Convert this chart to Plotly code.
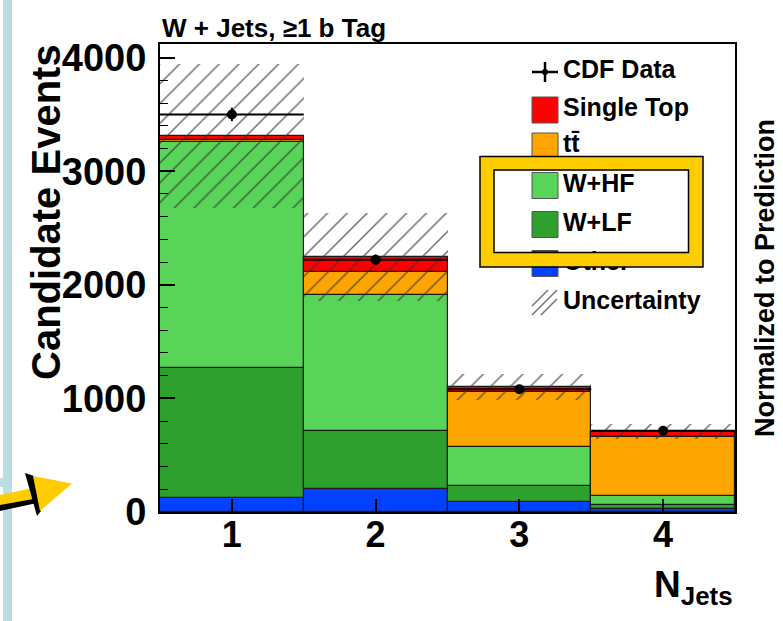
import numpy as np
import plotly.graph_objects as go

# ---------------- data ----------------
njets = [1, 2, 3, 4]
other = [120, 200, 88, 25]
w_lf = [1150, 510, 144, 35]
w_hf = [1990, 1200, 344, 80]
ttbar = [15, 205, 478, 524]
single_top = [35, 130, 44, 43]
cdf_data = [3500, 2220, 1081, 716]
uncertainty = [630, 390, 115, 65]

legend_labels = ["CDF Data", "Single Top", "t\u0074\u0304", "W+HF", "W+LF", "Other", "Uncertainty"]
x_ticks = [1, 2, 3, 4]

# ---------------- geometry helpers ----------------
W, H = 783, 621
L, R, T, B = 160, 735, 44, 512
XR = (0.5, 4.5)
YR = (0, 4120)
FONT = "Liberation Sans, Arial, Helvetica, sans-serif"


def px(x):
    return (x - L) / (R - L)


def py(y):
    return (B - y) / (B - T)


def dx(x):
    return XR[0] + (x - L) / (R - L) * (XR[1] - XR[0])


def dy(y):
    return YR[0] + (B - y) / (B - T) * (YR[1] - YR[0])


colors = {
    "Other": "#0042FF",
    "W+LF": "#2EA02E",
    "W+HF": "#58D458",
    "tt": "#FFA500",
    "ST": "#FF0000",
}

components = [
    ("Other", other, colors["Other"]),
    ("W+LF", w_lf, colors["W+LF"]),
    ("W+HF", w_hf, colors["W+HF"]),
    ("tt", ttbar, colors["tt"]),
    ("ST", single_top, colors["ST"]),
]

fig = go.Figure()
base = np.zeros(len(njets))
for name, vals, col in components:
    vals = np.array(vals, dtype=float)
    fig.add_trace(go.Bar(
        x=njets, y=vals, base=base.copy(), width=1.0, name=name,
        marker=dict(color=col, line=dict(color="#1a1a1a", width=1.2)),
        showlegend=False,
    ))
    base = base + vals

total = base
unc = np.array(uncertainty, dtype=float)
fig.add_trace(go.Bar(
    x=njets, y=2 * unc, base=total - unc, width=1.0, name="Uncertainty",
    marker=dict(color="rgba(0,0,0,0)", line=dict(width=0),
                pattern=dict(shape="/", fgcolor="#333333", fgopacity=0.75,
                             size=14, solidity=0.1, fillmode="overlay")),
    showlegend=False,
))

fig.add_trace(go.Scatter(
    x=njets, y=cdf_data, mode="markers", name="CDF Data",
    marker=dict(color="black", size=10),
    error_x=dict(type="data", array=[0.5] * 4, color="black", thickness=2, width=0),
    error_y=dict(type="data", array=list(np.sqrt(cdf_data)), color="black", thickness=2, width=0),
    showlegend=False,
))

# ---------------- manual legend ----------------
row_y = [72, 110, 146, 185.5, 224.5, 263.5, 302.5]
text_x = 563
fig.add_trace(go.Scatter(
    x=[dx(text_x)] * len(legend_labels), y=[dy(v) for v in row_y],
    mode="text", text=legend_labels, textposition="middle right",
    textfont=dict(family=FONT, size=25, color="black", weight="bold"),
    showlegend=False, hoverinfo="skip",
))

shapes = []
sw_x0, sw_x1 = 532, 558
swatch_cols = [colors["ST"], colors["tt"], colors["W+HF"], colors["W+LF"], colors["Other"]]
for yc, col in zip(row_y[1:6], swatch_cols):
    shapes.append(dict(type="rect", xref="paper", yref="paper",
                       x0=px(sw_x0), x1=px(sw_x1), y0=py(yc + 13), y1=py(yc - 13),
                       fillcolor=col, line=dict(color="#555555", width=1), layer="above"))
# CDF data symbol (cross with dot)
cx = (sw_x0 + sw_x1) / 2
shapes.append(dict(type="line", xref="paper", yref="paper", x0=px(sw_x0), x1=px(sw_x1),
                   y0=py(row_y[0]), y1=py(row_y[0]), line=dict(color="black", width=2.5), layer="above"))
shapes.append(dict(type="line", xref="paper", yref="paper", x0=px(cx), x1=px(cx),
                   y0=py(row_y[0] - 10), y1=py(row_y[0] + 10), line=dict(color="black", width=2.5), layer="above"))
shapes.append(dict(type="circle", xref="paper", yref="paper", x0=px(cx - 3), x1=px(cx + 3),
                   y0=py(row_y[0] + 3), y1=py(row_y[0] - 3), fillcolor="black", line=dict(width=0), layer="above"))
# Uncertainty symbol (hatch lines)
u0, u1 = row_y[6] - 12.5, row_y[6] + 12.5
for k in (-9, 0, 9):
    c = sw_x0 + u1 + k
    xa = max(sw_x0, c - u1)
    xb = min(sw_x1 - 1, c - u0)
    shapes.append(dict(type="line", xref="paper", yref="paper",
                       x0=px(xa), y0=py(c - xa), x1=px(xb), y1=py(c - xb),
                       line=dict(color="#777777", width=1.6), layer="above"))

# yellow highlight box
shapes.append(dict(type="rect", xref="paper", yref="paper",
                   x0=px(487), x1=px(695.8), y0=py(259.8), y1=py(163.3),
                   line=dict(color="#FFCC00", width=14), fillcolor="rgba(0,0,0,0)", layer="above"))
shapes.append(dict(type="rect", xref="paper", yref="paper",
                   x0=px(480), x1=px(703), y0=py(267), y1=py(156.5),
                   line=dict(color="black", width=1.5), fillcolor="rgba(0,0,0,0)", layer="above"))
shapes.append(dict(type="rect", xref="paper", yref="paper",
                   x0=px(494), x1=px(688.5), y0=py(252.5), y1=py(170),
                   line=dict(color="black", width=1.5), fillcolor="rgba(0,0,0,0)", layer="above"))

# left light-blue bar
shapes.append(dict(type="rect", xref="paper", yref="paper",
                   x0=px(3), x1=px(12), y0=py(H), y1=py(0),
                   fillcolor="#BBDDE3", line=dict(width=0), layer="above"))
shapes.append(dict(type="rect", xref="paper", yref="paper",
                   x0=px(0), x1=px(3), y0=py(487), y1=py(478),
                   fillcolor="#BBDDE3", line=dict(width=0), layer="above"))


def poly(points):
    return "M " + " L ".join(f"{px(a):.5f},{py(b):.5f}" for a, b in points) + " Z"


# yellow arrow (bottom-left)
shapes.append(dict(type="path", xref="paper", yref="paper",
                   path=poly([(0, 504), (36, 497), (37, 503), (0, 511)]),
                   fillcolor="black", line=dict(width=0), layer="above"))
shapes.append(dict(type="path", xref="paper", yref="paper",
                   path=poly([(0, 495), (35, 487.5), (36, 498.5), (0, 505)]),
                   fillcolor="#FFCC00", line=dict(width=0), layer="above"))
shapes.append(dict(type="path", xref="paper", yref="paper",
                   path=poly([(25, 473), (34, 476), (41, 511), (37, 516)]),
                   fillcolor="black", line=dict(width=0), layer="above"))
shapes.append(dict(type="path", xref="paper", yref="paper",
                   path=poly([(33, 476), (72, 483.5), (40, 511)]),
                   fillcolor="#FFCC00", line=dict(width=0), layer="above"))

annotations = [
    dict(text="W + Jets, \u22651 b Tag", xref="paper", yref="paper", x=0, y=py(28),
         xanchor="left", yanchor="middle", showarrow=False,
         font=dict(family=FONT, size=26, color="black", weight="bold")),
    dict(text="Candidate Events", xref="paper", yref="paper", x=px(46), y=py(212),
         xanchor="center", yanchor="middle", textangle=-90, showarrow=False,
         font=dict(family=FONT, size=40, color="black", weight="bold")),
    dict(text="Normalized to Prediction", xref="paper", yref="paper", x=px(765), y=py(278),
         xanchor="center", yanchor="middle", textangle=-90, showarrow=False,
         font=dict(family=FONT, size=27, color="black", weight="bold")),
    dict(text="N<sub>Jets</sub>", xref="paper", yref="paper", x=1.0, y=py(562),
         xanchor="right", yanchor="top", showarrow=False,
         font=dict(family=FONT, size=37, color="black", weight="bold")),
]

fig.update_layout(
    width=W, height=H,
    margin=dict(l=L, r=W - R, t=T, b=H - B, pad=0),
    paper_bgcolor="white", plot_bgcolor="white",
    barmode="overlay", bargap=0,
    showlegend=False,
    shapes=shapes, annotations=annotations,
    xaxis=dict(range=list(XR), tickvals=x_ticks, ticktext=[str(v) for v in x_ticks],
               ticks="inside", ticklen=13, tickwidth=1.5, tickcolor="black",
               showline=True, linewidth=2, linecolor="black", mirror=True,
               showgrid=False, zeroline=False, ticklabelstandoff=-10,
               tickfont=dict(family=FONT, size=36, color="black", weight="bold")),
    yaxis=dict(range=list(YR), tick0=0, dtick=1000,
               ticks="inside", ticklen=15, tickwidth=1.5, tickcolor="black",
               minor=dict(dtick=200, ticks="inside", ticklen=8, tickwidth=1.2,
                          tickcolor="black", showgrid=False),
               showline=True, linewidth=2, linecolor="black", mirror=True,
               showgrid=False, zeroline=False, ticklabelstandoff=4,
               tickfont=dict(family=FONT, size=38, color="black", weight="bold")),
)

fig.write_html("out.html")
